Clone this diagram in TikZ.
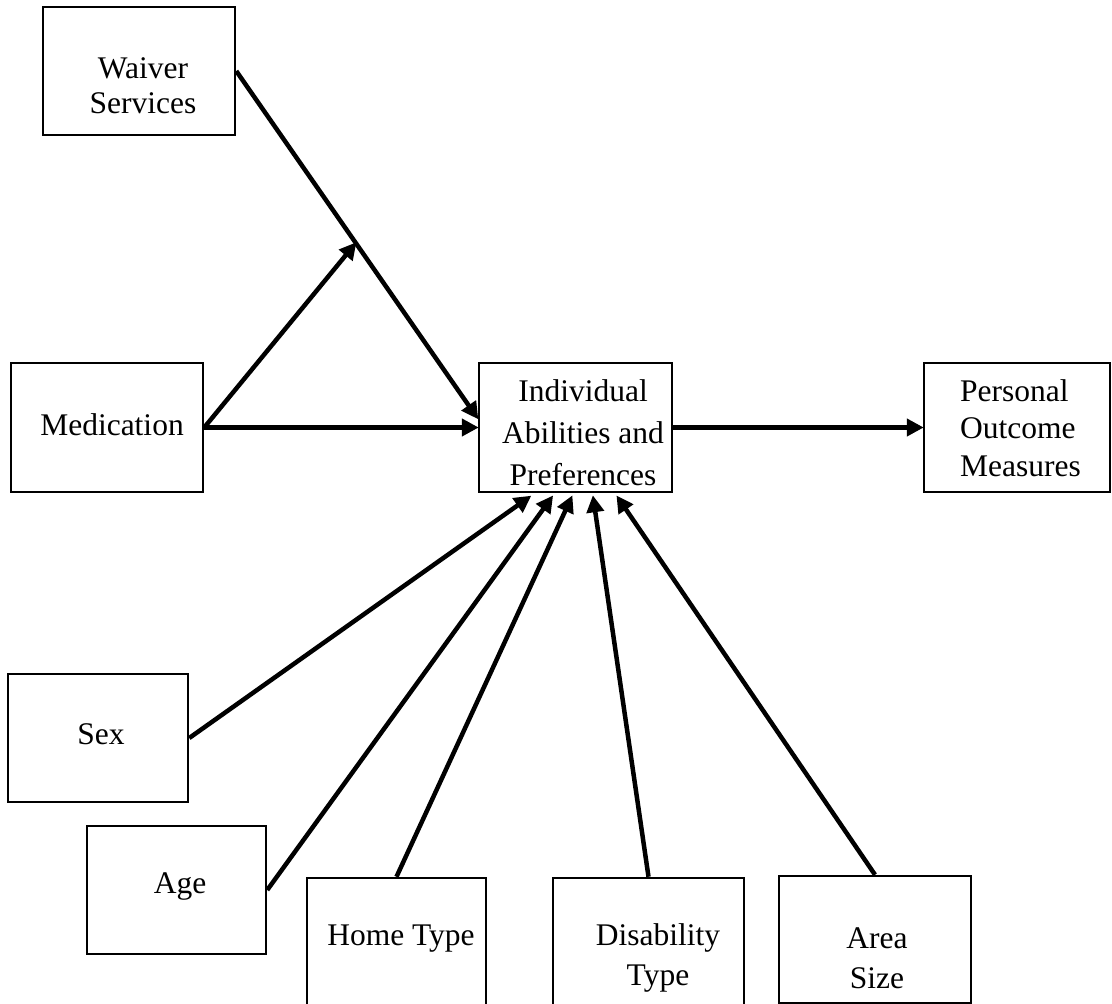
\documentclass[tikz,border=0pt]{standalone}
\usepackage{fontspec}
\setmainfont{Liberation Serif}
\usetikzlibrary{arrows.meta}
\begin{document}
\begin{tikzpicture}[x=1pt,y=-1pt,
  box/.style={draw=black,line width=2.5pt,fill=white,inner sep=0pt},
  lbl/.style={inner sep=0pt,align=center,font=\fontsize{31.5}{37}\selectfont},
  conn/.style={line width=4.5pt,-{Triangle[length=17pt,width=17pt]},shorten >=-1pt}]
\clip (0,0) rectangle (1112,1004);
\fill[white] (0,0) rectangle (1112,1004);
% boxes
\node[box,minimum width=192pt,minimum height=128pt] (waiver) at (139,71) {};
\node[box,minimum width=192pt,minimum height=129pt] (med) at (107,427.5) {};
\node[box,minimum width=193pt,minimum height=129pt] (ind) at (575.5,427.5) {};
\node[box,minimum width=186pt,minimum height=129pt] (pers) at (1017,427.5) {};
\node[box,minimum width=180pt,minimum height=128pt] (sex) at (98,738) {};
\node[box,minimum width=179pt,minimum height=128pt] (age) at (176.5,890) {};
\node[box,minimum width=179pt,minimum height=128pt] (home) at (396.5,942) {};
\node[box,minimum width=191pt,minimum height=128pt] (dis) at (648.5,942) {};
\node[box,minimum width=192pt,minimum height=127pt] (area) at (875,939.5) {};
% texts
\node[lbl,font=\fontsize{31.5}{35}\selectfont] (twaiver) at (143,86) {Waiver\\Services};
\node[lbl] (tmed) at (112,425) {Medication};
\node[lbl,font=\fontsize{31.5}{42}\selectfont] (tind) at (583,433) {Individual\\Abilities and\\Preferences};
\node[lbl,align=left,anchor=west,font=\fontsize{31.5}{37.5}\selectfont] (tpers) at (960,428) {Personal\\Outcome\\Measures};
\node[lbl] (tsex) at (101,734) {Sex};
\node[lbl] (tage) at (180,886) {Age};
\node[lbl] (thome) at (401,939) {Home Type};
\node[lbl,font=\fontsize{31.5}{40}\selectfont] (tdis) at (658,958) {Disability\\Type};
\node[lbl,font=\fontsize{31.5}{40}\selectfont] (tarea) at (877,958) {Area\\Size};
% connectors
\draw[conn] (waiver.east) -- coordinate[pos=0.495] (mod) ([yshift=9pt]ind.west);
\draw[conn] (med.east) -- (mod);
\draw[conn] (med.east) -- (ind.west);
\draw[conn] (ind.east) -- (pers.west);
\draw[conn] (sex.east) -- ([xshift=-45pt,yshift=-3pt]ind.south);
\draw[conn] (age.east) -- ([xshift=-23pt,yshift=-3pt]ind.south);
\draw[conn] (home.north) -- ([xshift=-3.5pt,yshift=-3pt]ind.south);
\draw[conn] (dis.north) -- ([xshift=17.5pt,yshift=-3pt]ind.south);
\draw[conn] (area.north) -- ([xshift=41.5pt,yshift=-3pt]ind.south);
\end{tikzpicture}
\end{document}
